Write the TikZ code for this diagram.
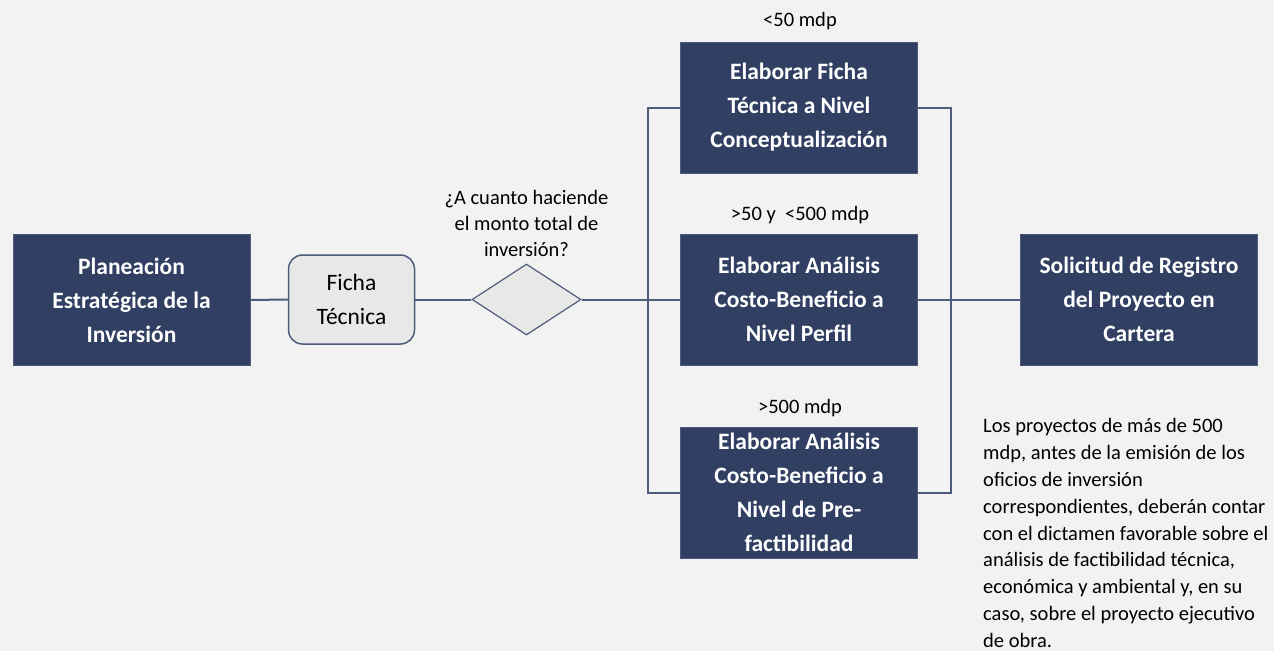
\documentclass[tikz,border=0pt]{standalone}
\usepackage{fontspec}
\setmainfont{Carlito}
\usetikzlibrary{shapes.geometric}
\definecolor{bg}{HTML}{F2F2F2}
\definecolor{navy}{HTML}{314062}
\definecolor{edge}{HTML}{4E5B7B}
\definecolor{lightbox}{HTML}{E8E8E8}
\begin{document}
\begin{tikzpicture}[x=1pt,y=-1pt,
  darkbox/.style={rectangle, fill=navy, draw=edge, line width=0.8pt,
    minimum width=237pt, minimum height=131pt, inner sep=0pt,
    text=white, align=center, font=\fontsize{23.5}{34}\selectfont\bfseries},
  softbox/.style={rectangle, rounded corners=14pt, fill=lightbox, draw=edge, line width=1.5pt,
    minimum width=126pt, minimum height=89pt, inner sep=0pt,
    text=black, align=center, font=\fontsize{23.5}{34}\selectfont},
  decision/.style={diamond, fill=lightbox, draw=edge, line width=1.2pt,
    minimum width=109pt, minimum height=71pt, inner sep=0pt},
  lbl/.style={text=black, align=center, inner sep=0pt, font=\fontsize{20.5}{26}\selectfont},
  conn/.style={draw=edge, line width=2pt}]
\fill[bg] (0,0) rectangle (1274,651);
\useasboundingbox (0,0) rectangle (1274,651);

\node[darkbox] (plan) at (131.5,300) {Planeación\\Estratégica de la\\Inversión};
\node[softbox] (ficha) at (351.5,299.5) {Ficha\\Técnica};
\node[decision] (dec) at (526.5,299.5) {};
\node[lbl] (q) at (526.5,223) {¿A cuanto haciende\\el monto total de\\inversión?};

\node[darkbox] (top) at (799,107.5) {Elaborar Ficha\\Técnica a Nivel\\Conceptualización};
\node[darkbox] (mid) at (799,299.5) {Elaborar Análisis\\Costo-Beneficio a\\Nivel Perfil};
\node[darkbox] (bot) at (799,492.5) {Elaborar Análisis\\Costo-Beneficio a\\Nivel de Pre-\\factibilidad};
\node[darkbox] (reg) at (1139,299.5) {Solicitud de Registro\\del Proyecto en\\Cartera};

\node[lbl] (l1) at (800,21) {<50 mdp};
\node[lbl] (l2) at (800,215) {>50 y \ <500 mdp};
\node[lbl] (l3) at (800,408) {>500 mdp};

\node[lbl, align=left, anchor=north west, font=\fontsize{20.5}{26.9}\selectfont] (note) at (983,418)
 {Los proyectos de más de 500\\mdp, antes de la emisión de los\\oficios de inversión\\correspondientes, deberán contar\\con el dictamen favorable sobre el\\análisis de factibilidad técnica,\\económica y ambiental y, en su\\caso, sobre el proyecto ejecutivo\\de obra.};

\coordinate (lt) at (648,107.5);
\coordinate (lb) at (648,492.5);
\coordinate (rt) at (951,107.5);
\coordinate (rb) at (951,492.5);

\draw[conn] (plan.east) -- (ficha.west);
\draw[conn] (ficha.east) -- (dec.west);
\draw[conn] (dec.east) -- (mid.west);
\draw[conn] (mid.east) -- (reg.west);
\draw[conn] (top.west) -- (lt) -- (lb) -- (bot.west);
\draw[conn] (top.east) -- (rt) -- (rb) -- (bot.east);
\end{tikzpicture}
\end{document}
